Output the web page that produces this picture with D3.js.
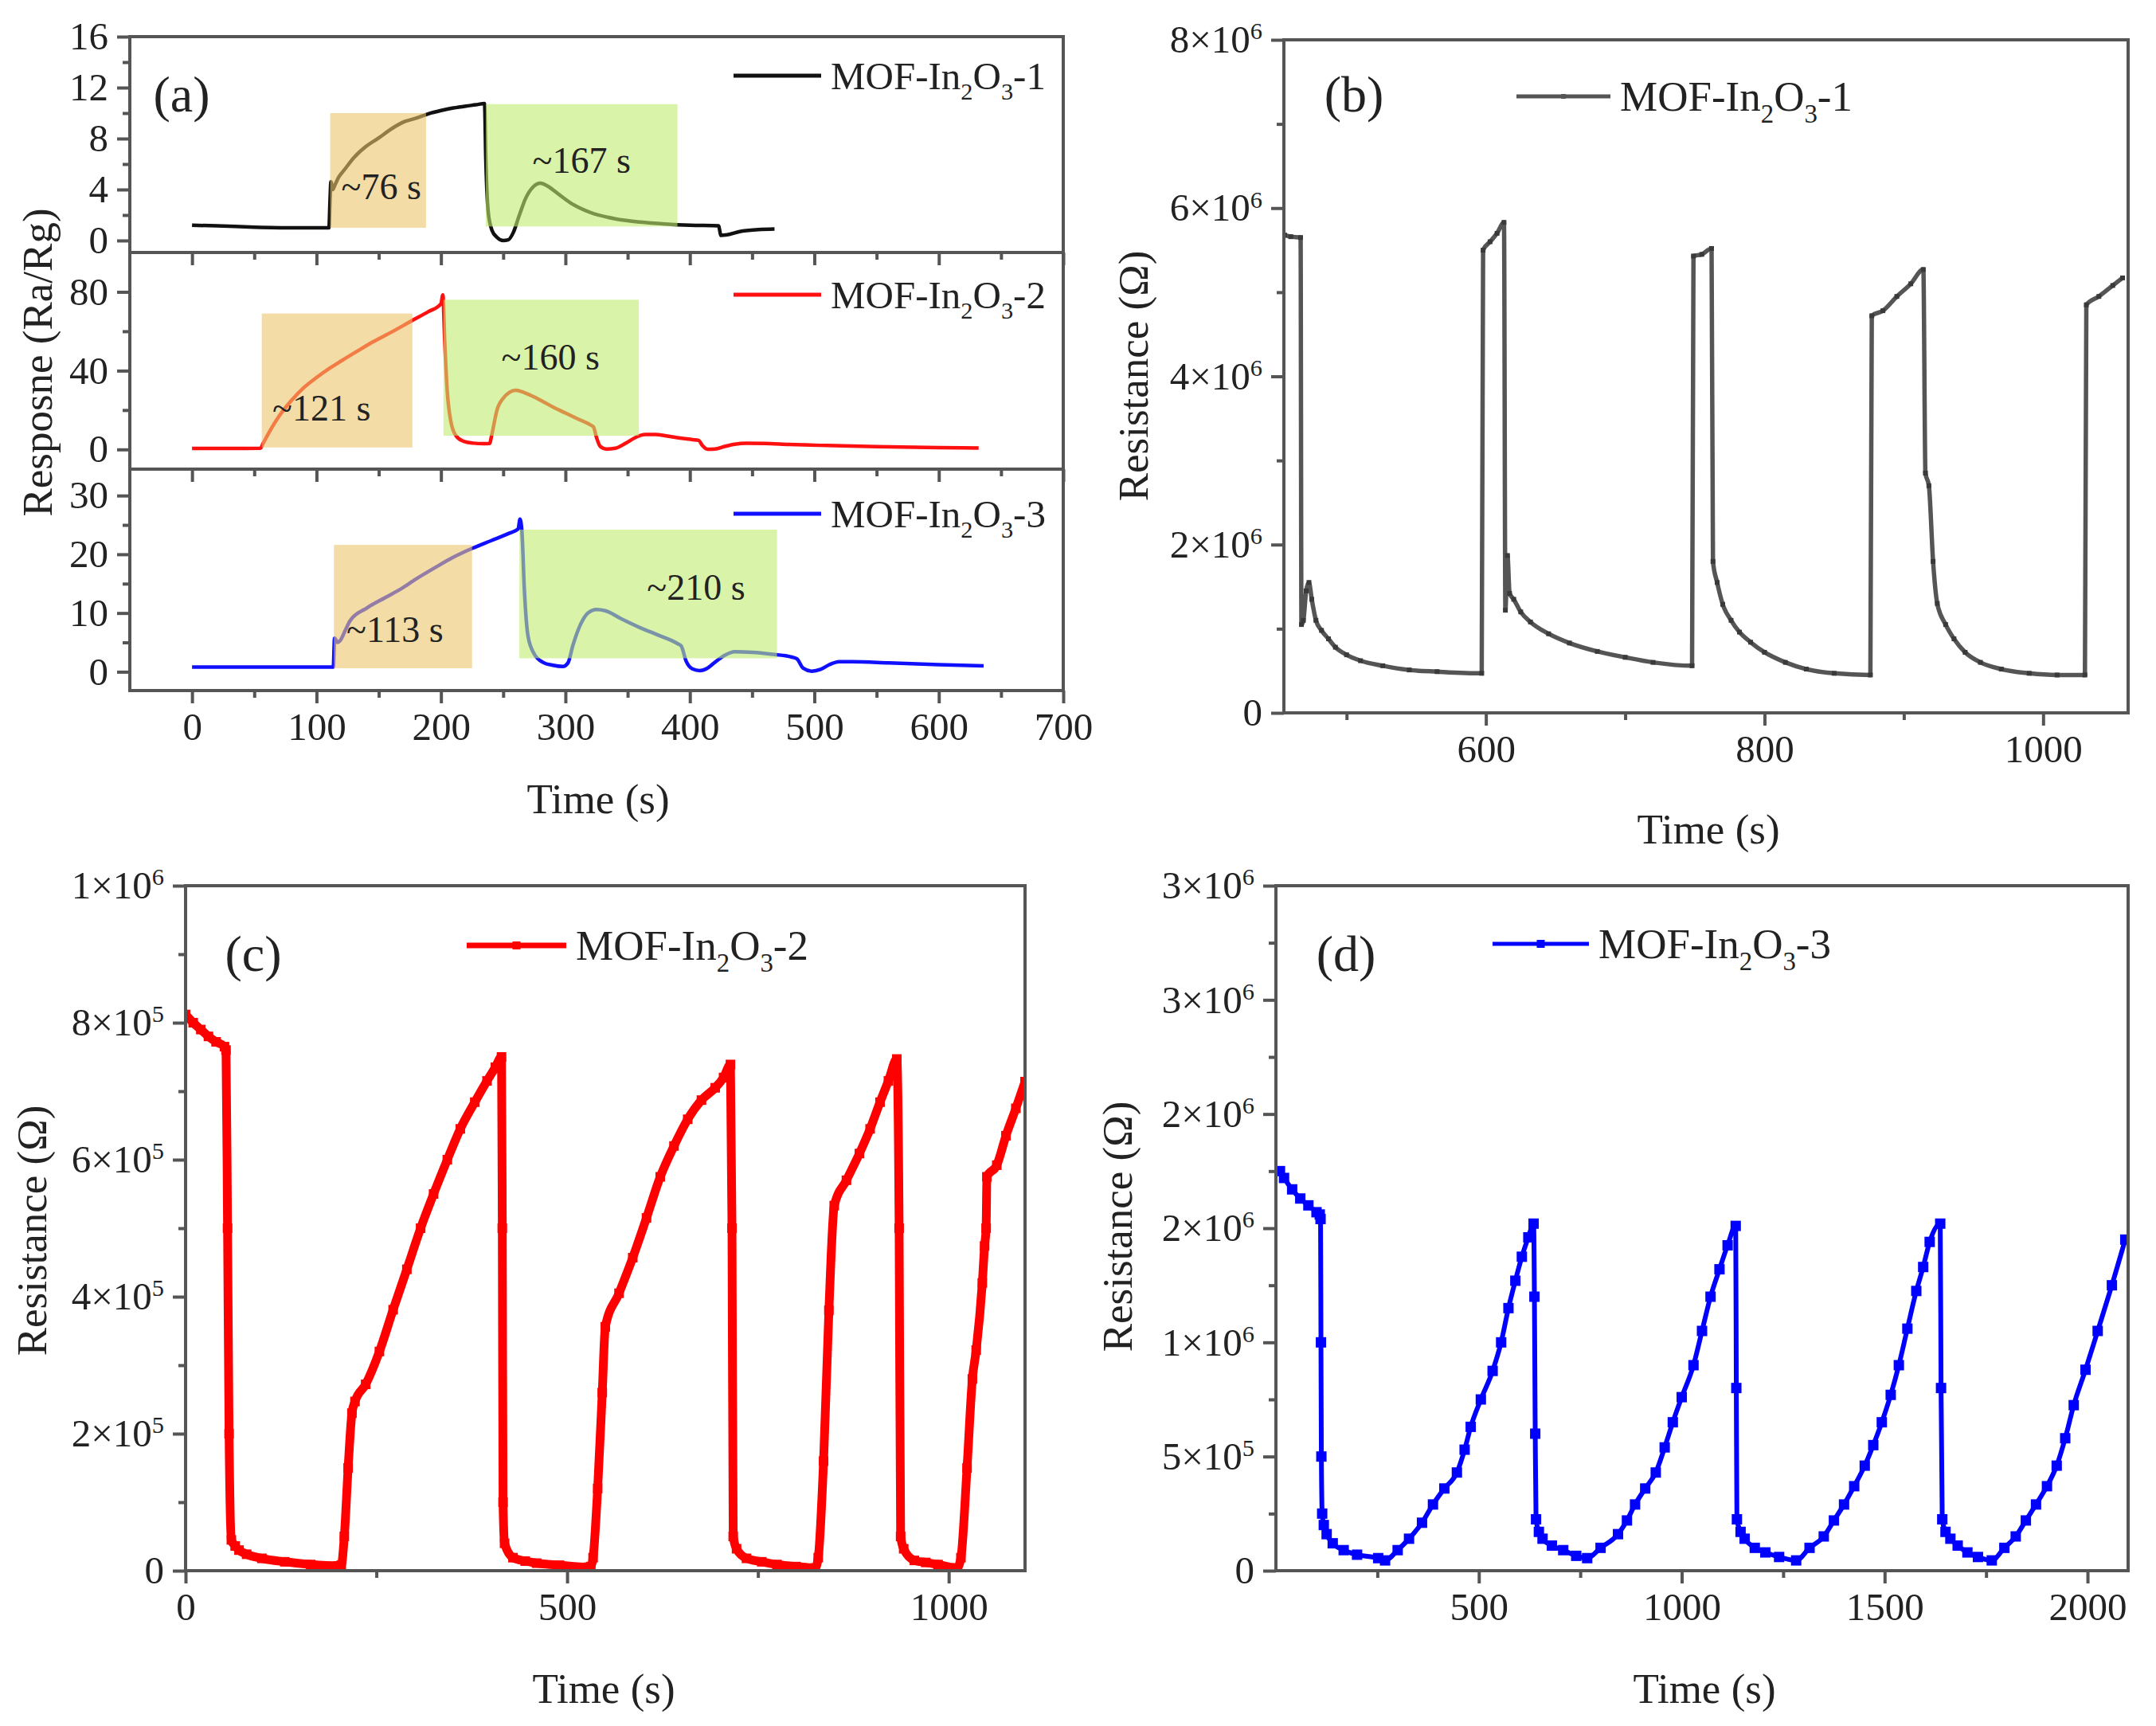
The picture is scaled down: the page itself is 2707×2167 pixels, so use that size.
<!DOCTYPE html>
<html>
<head>
<meta charset="utf-8">
<script src="https://cdn.jsdelivr.net/npm/d3@7"></script>
<style>
  body { margin: 0; background: #fff; }
  svg { display: block; }
  svg text { font-family: "Liberation Serif", "Times New Roman", serif; }
</style>
</head>
<body>
<div id="chart"></div>
<script>
// ---- data ----
// (a) response vs time, three samples
const a1Time = [0, 20, 50, 80, 110, 110.8, 111.6, 113, 115, 118, 122, 130, 140, 150, 160, 170, 180, 190, 200, 210, 220, 228, 235, 236, 238, 241, 245, 250, 254, 258, 263, 268, 274, 280, 286, 295, 305, 320, 340, 360, 380, 400, 423, 425, 430, 440, 455, 468];
const a1Resp = [1.2, 1.15, 1.05, 1.0, 1.0, 3.0, 4.6, 4.0, 4.4, 5.0, 5.5, 6.5, 7.4, 8.05, 8.75, 9.3, 9.6, 9.95, 10.2, 10.4, 10.55, 10.65, 10.75, 6.5, 2.2, 0.8, 0.25, 0.0, 0.05, 0.6, 2.0, 3.3, 4.2, 4.5, 4.25, 3.6, 2.9, 2.2, 1.7, 1.45, 1.3, 1.2, 1.15, 0.4, 0.45, 0.7, 0.85, 0.9];

const a2Time = [0, 30, 55, 57, 60, 64, 70, 80, 90, 100, 110, 120, 133, 145, 160, 177, 190, 200, 201.5, 203, 205, 208, 212, 218, 226, 234, 239, 241, 245, 250, 255, 260, 265, 272, 280, 290, 300, 310, 320, 322.5, 325, 328, 333, 340, 348, 356, 364, 372, 382, 392, 402, 407, 410, 414, 420, 428, 436, 445, 460, 480, 510, 550, 600, 632];
const a2Resp = [0.5, 0.5, 0.6, 3, 6.5, 11, 17, 25, 31.5, 36.5, 41, 45, 50, 54.5, 59.5, 65.5, 70, 74, 78.5, 55, 30, 14, 7, 4.2, 3.2, 2.9, 3.0, 8, 20, 26, 29, 30, 29.3, 27.5, 25, 21.5, 18.5, 15.5, 12.5, 11.5, 6, 1.5, 0.2, 0.6, 3, 6, 7.6, 7.6, 6.8, 5.8, 5.0, 4.6, 2, 0.1, 0.2, 1.5, 2.6, 3.1, 3.0, 2.5, 2.0, 1.4, 0.9, 0.7];

const a3Time = [0, 60, 113.5, 114.5, 117, 119, 123, 127, 140, 155, 167, 180, 195, 210, 225, 240, 255, 262, 263.5, 265, 267, 270, 275, 282, 290, 298, 302, 306, 312, 318, 325, 332, 345, 360, 375, 390, 393, 397, 402, 408, 414, 420, 428, 436, 450, 465, 482, 486, 491, 498, 505, 512, 520, 530, 560, 600, 636];
const a3Resp = [0.8, 0.8, 0.8, 5.7, 5.0, 5.3, 7.0, 8.7, 10.8, 12.6, 14.0, 15.8, 17.7, 19.5, 21.0, 22.3, 23.6, 24.3, 26.0, 24.0, 14, 6, 3, 1.6, 1.1, 0.9, 1.5, 4.5, 8, 10, 10.6, 10.4, 9.0, 7.5, 6.2, 4.8, 4.4, 1.8, 0.5, 0.2, 0.6, 1.6, 2.8, 3.4, 3.3, 3.0, 2.5, 2.2, 0.6, 0.1, 0.4, 1.2, 1.7, 1.7, 1.5, 1.2, 1.0];

// shaded response / recovery windows: [t0, t1, y0, y1]
const a1Shades = [[111, 188, 1, 10], [236, 390, 1.1, 10.7]];
const a2Shades = [[56, 177, 1, 69], [202, 359, 7, 76]];
const a3Shades = [[114, 225, 0.6, 21.6], [263, 470, 2.3, 24.2]];

// annotations: [t, y, text]
const a1Notes = [[152, 4.2, '~76 s'], [313, 6.3, '~167 s']];
const a2Notes = [[104, 21, '~121 s'], [288, 47, '~160 s']];
const a3Notes = [[163, 7.2, '~113 s'], [405, 14.3, '~210 s']];

const aXTicks = [0, 100, 200, 300, 400, 500, 600, 700];
const aXMinor = [50, 150, 250, 350, 450, 550, 650];

// (b) MOF-In2O3-1 resistance, x10^6 ohm
const bTime = [455.5, 460, 467, 467.6, 469, 471, 473, 475, 478, 482, 487, 492, 500, 510, 526, 545, 565, 597, 598, 603, 608, 613, 614, 615.5, 617, 620, 625, 632, 645, 660, 680, 700, 720, 748, 749, 755, 762, 763, 766, 770, 776, 782, 790, 800, 815, 830, 850, 876, 877, 885, 895, 905, 914, 915.5, 918, 921, 924, 930, 936, 944, 955, 970, 990, 1010, 1030, 1031, 1040, 1050, 1057];
const bResM = [5.68, 5.66, 5.65, 1.05, 1.1, 1.45, 1.55, 1.35, 1.1, 0.98, 0.88, 0.78, 0.69, 0.62, 0.56, 0.51, 0.49, 0.47, 5.5, 5.6, 5.7, 5.83, 1.22, 1.87, 1.42, 1.35, 1.2, 1.08, 0.94, 0.83, 0.73, 0.66, 0.6, 0.56, 5.43, 5.45, 5.52, 1.8, 1.55, 1.29, 1.1, 0.96, 0.84, 0.72, 0.6, 0.52, 0.47, 0.45, 4.72, 4.78, 4.95, 5.1, 5.27, 2.85, 2.7, 1.8, 1.3, 1.05, 0.88, 0.72, 0.6, 0.52, 0.47, 0.45, 0.45, 4.85, 4.95, 5.08, 5.17];
const bXTicks = [600, 800, 1000];
const bXMinor = [500, 700, 900];
const bYTicks = [0, 2, 4, 6, 8];
const bYLabels = ['0', '2×10^6', '4×10^6', '6×10^6', '8×10^6'];
const bYMinor = [1, 3, 5, 7];

// (c) MOF-In2O3-2 resistance, x10^5 ohm
const cTime = [0, 10, 20, 30, 40, 51, 53, 55, 57, 60, 65, 70, 80, 100, 130, 164, 200, 204, 208, 213, 218, 222, 236, 254, 272, 290, 308, 325, 343, 360, 379, 395, 406, 414, 415, 416, 418, 429, 445, 460, 490, 528, 531, 534, 540, 546, 550, 568, 586, 604, 622, 640, 658, 676, 694, 705, 714, 716, 717.6, 722, 735, 755, 775, 800, 825, 829, 836, 843, 850, 866, 883, 897, 910, 921, 932, 935, 937, 941, 955, 970, 986, 1011, 1016, 1024, 1031, 1036, 1044, 1047, 1049, 1050, 1063, 1075, 1088, 1100];
const cRes5 = [8.12, 8.0, 7.9, 7.8, 7.72, 7.65, 7.6, 5, 2, 0.45, 0.36, 0.3, 0.24, 0.18, 0.13, 0.09, 0.07, 0.08, 0.5, 1.5, 2.3, 2.47, 2.72, 3.2, 3.81, 4.4, 5.0, 5.5, 6.0, 6.45, 6.84, 7.15, 7.35, 7.5, 5, 1.0, 0.4, 0.19, 0.14, 0.11, 0.08, 0.05, 0.06, 0.19, 1.2, 2.6, 3.56, 4.05, 4.57, 5.15, 5.75, 6.2, 6.59, 6.87, 7.05, 7.2, 7.39, 5, 0.5, 0.32, 0.18, 0.13, 0.09, 0.06, 0.04, 0.19, 1.6, 3.8, 5.33, 5.7, 6.09, 6.45, 6.84, 7.15, 7.47, 5, 0.5, 0.32, 0.15, 0.12, 0.09, 0.04, 0.19, 1.5, 2.8, 3.22, 4.2, 4.74, 5.0, 5.75, 5.92, 6.35, 6.75, 7.14];
const cXTicks = [0, 500, 1000];
const cXMinor = [250, 750];
const cYTicks = [0, 2, 4, 6, 8, 10];
const cYLabels = ['0', '2×10^5', '4×10^5', '6×10^5', '8×10^5', '1×10^6'];
const cYMinor = [1, 3, 5, 7, 9];

// (d) MOF-In2O3-3 resistance, x10^6 ohm
const dTime = [10, 20, 40, 60, 80, 100, 108, 110, 111, 112, 114, 118, 125, 140, 167, 200, 252, 269, 300, 328, 360, 387, 415, 446, 465, 480, 505, 534, 555, 573, 590, 606, 622, 635, 637, 639, 641, 648, 657, 680, 708, 740, 767, 800, 843, 865, 885, 910, 936, 958, 978, 1000, 1029, 1050, 1071, 1093, 1113, 1133, 1134.5, 1136, 1145, 1155, 1180, 1206, 1240, 1282, 1315, 1350, 1375, 1400, 1425, 1451, 1472, 1493, 1515, 1535, 1556, 1578, 1595, 1611, 1637, 1639, 1642, 1650, 1662, 1680, 1704, 1730, 1764, 1795, 1823, 1848, 1873, 1900, 1924, 1945, 1966, 1995, 2025, 2060, 2093];
const dResM = [1.75, 1.72, 1.67, 1.63, 1.6, 1.57, 1.56, 1.54, 1.0, 0.5, 0.25, 0.2, 0.16, 0.12, 0.09, 0.07, 0.055, 0.045, 0.09, 0.14, 0.21, 0.29, 0.36, 0.43, 0.53, 0.63, 0.75, 0.875, 1.0, 1.15, 1.27, 1.375, 1.46, 1.52, 1.2, 0.6, 0.225, 0.17, 0.14, 0.11, 0.09, 0.065, 0.055, 0.1, 0.16, 0.22, 0.29, 0.36, 0.43, 0.54, 0.65, 0.76, 0.9, 1.05, 1.2, 1.32, 1.425, 1.51, 0.8, 0.225, 0.17, 0.14, 0.1, 0.08, 0.06, 0.045, 0.1, 0.15, 0.22, 0.29, 0.37, 0.46, 0.55, 0.65, 0.77, 0.9, 1.06, 1.225, 1.33, 1.44, 1.52, 0.8, 0.225, 0.17, 0.14, 0.11, 0.08, 0.06, 0.045, 0.1, 0.15, 0.22, 0.29, 0.37, 0.46, 0.58, 0.725, 0.88, 1.05, 1.25, 1.45];
const dXTicks = [500, 1000, 1500, 2000];
const dXMinor = [250, 750, 1250, 1750];
const dYTicks = [0, 0.5, 1, 1.5, 2, 2.5, 3];
const dYLabels = ['0', '5×10^5', '1×10^6', '2×10^6', '2×10^6', '3×10^6', '3×10^6'];
const dYMinor = [0.25, 0.75, 1.25, 1.75, 2.25, 2.75];

// ---- drawing ----
const W = 2707, H = 2167;
const FONT = '"Liberation Serif", "Times New Roman", serif';
const AXIS = '#555';
const TICK_FS = 49, TITLE_FS = 53;

const svg = d3.select('#chart').append('svg')
    .attr('width', W)
    .attr('height', H)
    .style('font-family', FONT);

let clipCount = 0;

function sci_label(text, label) {
    const parts = label.split('^');
    text.text(null);
    text.append('tspan').text(parts[0]);
    if (parts.length > 1) {
        text.append('tspan')
            .attr('dy', '-0.55em')
            .attr('font-size', '0.62em')
            .text(parts[1]);
    }
}

function style_axis(g) {
    g.attr('font-family', null);
    g.select('.domain').remove();
    g.selectAll('line').attr('stroke', AXIS).attr('stroke-width', 4);
    g.selectAll('text').attr('fill', '#222').attr('font-size', TICK_FS).style('font-family', FONT);
}

function x_axis(g, x, y0, majors, minors, showLabels) {
    const major = g.append('g').attr('transform', `translate(0,${y0})`)
        .call(d3.axisBottom(x).tickValues(majors).tickSize(16).tickPadding(11)
            .tickFormat(showLabels ? d3.format('d') : () => ''));
    style_axis(major);
    const minor = g.append('g').attr('transform', `translate(0,${y0})`)
        .call(d3.axisBottom(x).tickValues(minors).tickSize(9).tickFormat(() => ''));
    style_axis(minor);
}

function y_axis(g, y, x0, majors, labels, minors) {
    const major = g.append('g').attr('transform', `translate(${x0},0)`)
        .call(d3.axisLeft(y).tickValues(majors).tickSize(16).tickPadding(11));
    style_axis(major);
    major.selectAll('.tick text').each(function (d, i) {
        sci_label(d3.select(this), labels[i]);
    });
    const minor = g.append('g').attr('transform', `translate(${x0},0)`)
        .call(d3.axisLeft(y).tickValues(minors).tickSize(9).tickFormat(() => ''));
    style_axis(minor);
}

function frame(g, x0, y0, x1, y1) {
    g.append('rect')
        .attr('x', x0).attr('y', y0)
        .attr('width', x1 - x0).attr('height', y1 - y0)
        .attr('fill', 'none')
        .attr('stroke', AXIS)
        .attr('stroke-width', 4);
}

function clip(g, x0, y0, x1, y1) {
    const id = 'clip' + (clipCount++);
    svg.append('clipPath').attr('id', id)
        .append('rect').attr('x', x0).attr('y', y0).attr('width', x1 - x0).attr('height', y1 - y0);
    return g.append('g').attr('clip-path', `url(#${id})`);
}

function mof_label(g, x, y, n, size) {
    const t = g.append('text')
        .attr('x', x).attr('y', y + size * 0.34)
        .attr('font-size', size)
        .attr('fill', '#222');
    t.append('tspan').text('MOF-In');
    t.append('tspan').attr('dy', size * 0.28).attr('font-size', size * 0.62).text('2');
    t.append('tspan').attr('dy', -size * 0.28).text('O');
    t.append('tspan').attr('dy', size * 0.28).attr('font-size', size * 0.62).text('3');
    t.append('tspan').attr('dy', -size * 0.28).text('-' + n);
}

function legend(g, x0, x1, y, color, width, n, marker, size) {
    g.append('line')
        .attr('x1', x0).attr('x2', x1).attr('y1', y).attr('y2', y)
        .attr('stroke', color).attr('stroke-width', width);
    if (marker) {
        g.append('rect')
            .attr('x', (x0 + x1) / 2 - marker / 2).attr('y', y - marker / 2)
            .attr('width', marker).attr('height', marker)
            .attr('fill', color);
    }
    mof_label(g, x1 + 12, y, n, size);
}

function text_at(g, x, y, str, size, opts) {
    const t = g.append('text')
        .attr('x', x).attr('y', y)
        .attr('font-size', size)
        .attr('fill', '#222')
        .attr('text-anchor', 'middle')
        .attr('dominant-baseline', 'central')
        .text(str);
    if (opts && opts.rotate) t.attr('transform', `rotate(-90,${x},${y})`);
    return t;
}

function series(g, x, y, ts, vs, color, width, marker) {
    const pts = ts.map((t, i) => [t, vs[i]]);
    const line = d3.line()
        .x(d => x(d[0]))
        .y(d => y(d[1]))
        .curve(d3.curveMonotoneX);
    g.append('path')
        .datum(pts)
        .attr('d', line)
        .attr('fill', 'none')
        .attr('stroke', color)
        .attr('stroke-width', width)
        .attr('stroke-linejoin', 'round');
    if (marker) {
        g.selectAll(null).data(pts).enter().append('rect')
            .attr('x', d => x(d[0]) - marker.size / 2)
            .attr('y', d => y(d[1]) - marker.size / 2)
            .attr('width', marker.size)
            .attr('height', marker.size)
            .attr('fill', marker.color);
    }
}

// ---------- panel (a) ----------
{
    const left = 163, right = 1335;
    const x = d3.scaleLinear().domain([-50, 700]).range([left, right]);
    const subs = [
        { top: 46, bottom: 317, domain: [-0.94, 16], ticks: [0, 4, 8, 12, 16], minor: [2, 6, 10, 14],
          t: a1Time, v: a1Resp, color: '#111', shades: a1Shades, notes: a1Notes, n: 1, legY: 95 },
        { top: 317, bottom: 589, domain: [-10, 100], ticks: [0, 40, 80], minor: [20, 60],
          t: a2Time, v: a2Resp, color: '#ff1010', shades: a2Shades, notes: a2Notes, n: 2, legY: 370 },
        { top: 589, bottom: 867, domain: [-3.2, 34.5], ticks: [0, 10, 20, 30], minor: [5, 15, 25],
          t: a3Time, v: a3Resp, color: '#1010ff', shades: a3Shades, notes: a3Notes, n: 3, legY: 645 }
    ];
    const g = svg.append('g');
    subs.forEach((s, k) => {
        const y = d3.scaleLinear().domain(s.domain).range([s.bottom, s.top]);
        const inner = clip(g, left, s.top, right, s.bottom);
        series(inner, x, y, s.t, s.v, s.color, 4.5, null);
        // shaded windows sit over the curve, semi-transparent
        inner.selectAll(null).data(s.shades).enter().append('rect')
            .attr('x', d => x(d[0]))
            .attr('y', d => y(d[3]))
            .attr('width', d => x(d[1]) - x(d[0]))
            .attr('height', d => y(d[2]) - y(d[3]))
            .attr('fill', (d, i) => i === 0 ? '#ebc56b' : '#bfeb70')
            .attr('opacity', 0.6);
        s.notes.forEach(nt => text_at(g, x(nt[0]), y(nt[1]), nt[2], 46));
        y_axis(g, y, left, s.ticks, s.ticks.map(String), s.minor);
        x_axis(g, x, s.bottom, aXTicks, aXMinor, k === 2);
        legend(g, 921, 1031, s.legY, s.color, 5, s.n, 0, 49);
    });
    subs.forEach(s => frame(g, left, s.top, right, s.bottom));
    text_at(g, 228, 118, '(a)', 64);
    text_at(g, 751, 1003, 'Time (s)', TITLE_FS);
    text_at(g, 47, 455, 'Resposne (Ra/Rg)', TITLE_FS, { rotate: true });
}

// ---------- resistance panels ----------
function resistance_panel(p) {
    const g = svg.append('g');
    const x = d3.scaleLinear().domain(p.xDomain).range([p.left, p.right]);
    const y = d3.scaleLinear().domain(p.yDomain).range([p.bottom, p.top]);
    const inner = clip(g, p.left, p.top, p.right, p.bottom);
    series(inner, x, y, p.t, p.v, p.color, p.width, p.marker);
    y_axis(g, y, p.left, p.yTicks, p.yLabels, p.yMinor);
    x_axis(g, x, p.bottom, p.xTicks, p.xMinor, true);
    frame(g, p.left, p.top, p.right, p.bottom);
    text_at(g, p.tag[0], p.tag[1], p.tag[2], 64);
    legend(g, p.leg[0], p.leg[1], p.leg[2], p.color, p.legWidth, p.n, p.legMarker, 53);
    text_at(g, p.xTitle[0], p.xTitle[1], 'Time (s)', TITLE_FS);
    text_at(g, p.yTitle[0], p.yTitle[1], 'Resistance (Ω)', TITLE_FS, { rotate: true });
}

resistance_panel({
    left: 1612, right: 2672, top: 50, bottom: 895,
    xDomain: [455, 1061], yDomain: [0, 8],
    t: bTime, v: bResM, color: '#555', width: 5.5, marker: { size: 6, color: '#3a3a3a' },
    xTicks: bXTicks, xMinor: bXMinor, yTicks: bYTicks, yLabels: bYLabels, yMinor: bYMinor,
    tag: [1700, 118, '(b)'], leg: [1904, 2022, 121], legWidth: 5, legMarker: 6, n: 1,
    xTitle: [2145, 1041], yTitle: [1423, 472]
});

resistance_panel({
    left: 233, right: 1287, top: 1112, bottom: 1972,
    xDomain: [0, 1100], yDomain: [0, 10],
    t: cTime, v: cRes5, color: '#ff0000', width: 11, marker: { size: 12, color: '#ff0000' },
    xTicks: cXTicks, xMinor: cXMinor, yTicks: cYTicks, yLabels: cYLabels, yMinor: cYMinor,
    tag: [318, 1197, '(c)'], leg: [586, 711, 1187], legWidth: 7, legMarker: 10, n: 2,
    xTitle: [758, 2120], yTitle: [40, 1545]
});

resistance_panel({
    left: 1602, right: 2672, top: 1112, bottom: 1972,
    xDomain: [0, 2100], yDomain: [0, 3],
    t: dTime, v: dResM, color: '#0000ff', width: 6, marker: { size: 13, color: '#0000ff' },
    xTicks: dXTicks, xMinor: dXMinor, yTicks: dYTicks, yLabels: dYLabels, yMinor: dYMinor,
    tag: [1690, 1197, '(d)'], leg: [1874, 1995, 1185], legWidth: 5, legMarker: 10, n: 3,
    xTitle: [2140, 2120], yTitle: [1403, 1540]
});
</script>
</body>
</html>
